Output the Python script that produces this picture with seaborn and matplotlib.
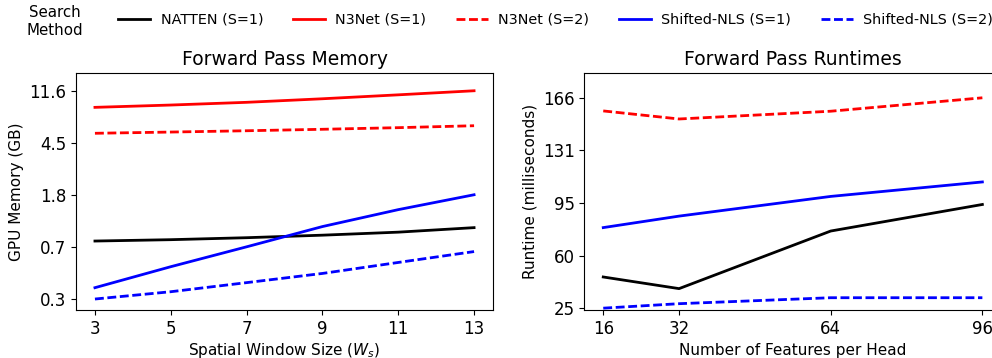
import numpy as np
import pandas as pd
import matplotlib
matplotlib.use("Agg")
import matplotlib.pyplot as plt
import seaborn as sns

# memory vs spatial window size (GB)
win_sizes = [3, 5, 7, 9, 11, 13]
mem_natten_s1 = [0.83, 0.85, 0.88, 0.92, 0.97, 1.05]
mem_n3net_s1 = [8.67, 9.03, 9.47, 10.08, 10.8, 11.6]
mem_n3net_s2 = [5.5, 5.62, 5.75, 5.9, 6.07, 6.28]
mem_nls_s1 = [0.366, 0.529, 0.75, 1.07, 1.44, 1.87]
mem_nls_s2 = [0.3, 0.341, 0.40, 0.47, 0.57, 0.69]
mem_ticklabels = ["0.3", "0.7", "1.8", "4.5", "11.6"]

# runtime vs features per head (ms)
feat_sizes = [16, 32, 64, 96]
rt_natten_s1 = [45.9, 38.1, 76.7, 94.5]
rt_n3net_s2 = [157.2, 151.8, 157.0, 166.0]
rt_nls_s1 = [79.0, 86.7, 99.9, 109.6]
rt_nls_s2 = [25.0, 28.0, 32.0, 32.0]
rt_ticklabels = ["25", "60", "95", "131", "166"]

methods = ["NATTEN (S=1)", "N3Net (S=1)", "N3Net (S=2)",
           "Shifted-NLS (S=1)", "Shifted-NLS (S=2)"]
colors = {"NATTEN (S=1)": "black", "N3Net (S=1)": "red", "N3Net (S=2)": "red",
          "Shifted-NLS (S=1)": "blue", "Shifted-NLS (S=2)": "blue"}
dash_pat = (3.2, 1.3)
dashes = {"NATTEN (S=1)": "", "N3Net (S=1)": "", "N3Net (S=2)": dash_pat,
          "Shifted-NLS (S=1)": "", "Shifted-NLS (S=2)": dash_pat}


def long_df(x, series):
    rows = []
    for name, vals in series.items():
        for xi, v in zip(x, vals):
            rows.append({"x": xi, "y": v, "method": name})
    return pd.DataFrame(rows)


mem_df = long_df(win_sizes, {
    "NATTEN (S=1)": mem_natten_s1, "N3Net (S=1)": mem_n3net_s1,
    "N3Net (S=2)": mem_n3net_s2, "Shifted-NLS (S=1)": mem_nls_s1,
    "Shifted-NLS (S=2)": mem_nls_s2})
rt_df = long_df(feat_sizes, {
    "NATTEN (S=1)": rt_natten_s1, "N3Net (S=2)": rt_n3net_s2,
    "Shifted-NLS (S=1)": rt_nls_s1, "Shifted-NLS (S=2)": rt_nls_s2})

fig = plt.figure(figsize=(9.92, 3.58), dpi=100)
ax1 = fig.add_axes([0.0766, 0.134, 0.4204, 0.662])
ax2 = fig.add_axes([0.589, 0.134, 0.4204, 0.662])

sns.lineplot(data=mem_df, x="x", y="y", hue="method", style="method",
             hue_order=methods, style_order=methods, palette=colors,
             dashes=dashes, linewidth=2, ax=ax1, legend=False)
sns.lineplot(data=rt_df, x="x", y="y", hue="method", style="method",
             hue_order=methods, style_order=methods, palette=colors,
             dashes=dashes, linewidth=2, ax=ax2, legend=False)

# left: log memory axis
ax1.set_yscale("log")
lo, hi = min(mem_nls_s2), max(mem_n3net_s1)
ax1.minorticks_off()
ax1.set_yticks(np.geomspace(lo, hi, 5))
ax1.set_yticklabels(mem_ticklabels)
ax1.set_ylim(lo / 1.213, hi * 1.365)
ax1.set_xticks(win_sizes)
ax1.set_title("Forward Pass Memory", fontsize=13.5)
ax1.set_xlabel("Spatial Window Size ($W_s$)", fontsize=11, labelpad=2.5)
ax1.set_ylabel("GPU Memory (GB)", fontsize=11)

# right: runtime
lo, hi = min(rt_nls_s2), max(rt_n3net_s2)
ax2.set_yticks(np.linspace(lo, hi, 5))
ax2.set_yticklabels(rt_ticklabels)
ax2.set_ylim(lo * 0.95, hi * 1.1)
ax2.set_xticks(feat_sizes)
ax2.set_title("Forward Pass Runtimes", fontsize=13.5)
ax2.set_xlabel("Number of Features per Head", fontsize=11)
ax2.set_ylabel("Runtime (milliseconds)", fontsize=11)

for ax in (ax1, ax2):
    ax.tick_params(labelsize=12)

handles = [plt.Line2D([], [], color=colors[m], linewidth=2,
                      dashes=dashes[m] if dashes[m] else (None, None))
           for m in methods]
fig.legend(handles, methods, loc="center left", bbox_to_anchor=(0.106, 0.945),
           ncol=5, frameon=False, fontsize=10.4, handlelength=2.2,
           columnspacing=2.05, handletextpad=0.74)
fig.text(0.055, 0.94, "Search\nMethod", ha="center", va="center", fontsize=10.8)

fig.savefig("out.png", dpi=100)
